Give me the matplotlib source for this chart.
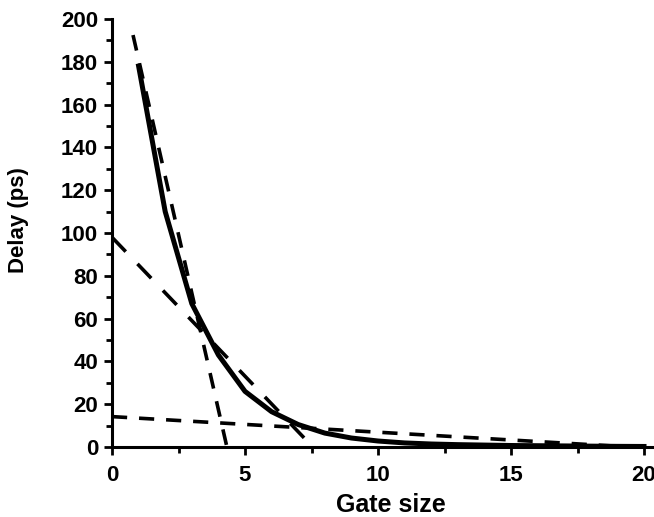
import matplotlib
matplotlib.use("Agg")
import matplotlib.pyplot as plt
from matplotlib.ticker import MultipleLocator

plt.rcParams['font.family'] = ['Liberation Sans', 'DejaVu Sans']
plt.rcParams['font.weight'] = 'bold'

# Measured delay versus gate size
gate_size = [1, 2, 3, 4, 5, 6, 7, 8, 9, 10, 11, 12, 13, 14, 15, 16, 17, 18, 19, 20]
delay_ps = [178, 110, 67, 43, 26, 16.5, 10.5, 6.5, 4.2, 2.8, 1.9, 1.4, 1.1, 0.9, 0.7, 0.6, 0.5, 0.4, 0.3, 0.25]

# Straight-line asymptotes (end points)
fit_steep_x = [0.79, 4.32]
fit_steep_y = [192.5, 0]
fit_mid_x = [0, 7.55]
fit_mid_y = [98, 0]
fit_flat_x = [0, 19.5]
fit_flat_y = [14.2, 0]

W, H = 654, 517
x_left, y_zero, y_top = 112, 447, 19
px_per_unit = 26.6
x_max = 21

fig = plt.figure(figsize=(W / 100, H / 100), dpi=100)
ax = fig.add_axes([x_left / W, (H - y_zero) / H,
                   x_max * px_per_unit / W, (y_zero - y_top) / H])

ax.plot(gate_size, delay_ps, color='black', lw=3.6, solid_joinstyle='round', zorder=3)
ax.plot(fit_steep_x, fit_steep_y, color='black', lw=2.6, dashes=(4.4, 3.6), zorder=2)
ax.plot(fit_mid_x, fit_mid_y, color='black', lw=2.6, dashes=(5.5, 4.7), zorder=2)
ax.plot(fit_flat_x, fit_flat_y, color='black', lw=2.6, dashes=(4.2, 3.3), zorder=2)

ax.set_xlim(0, x_max)
ax.set_ylim(0, 200)
ax.xaxis.set_major_locator(MultipleLocator(5))
ax.xaxis.set_minor_locator(MultipleLocator(2.5))
ax.yaxis.set_major_locator(MultipleLocator(20))
ax.yaxis.set_minor_locator(MultipleLocator(10))

for side in ('top', 'right'):
    ax.spines[side].set_visible(False)
for side in ('left', 'bottom'):
    ax.spines[side].set_linewidth(2.2)

ax.tick_params(axis='both', which='major', direction='out', length=6, width=2, labelsize=16)
ax.tick_params(axis='both', which='minor', direction='out', length=4, width=2)
ax.tick_params(axis='x', which='major', pad=7)
ax.tick_params(axis='y', which='major', pad=4)

ax.set_xlabel('Gate size', fontsize=18, fontweight='bold', labelpad=5)
ax.set_ylabel('Delay (ps)', fontsize=16, fontweight='bold')
axes_w_px = x_max * px_per_unit
ax.yaxis.set_label_coords((29 - x_left) / axes_w_px, (y_zero - 220) / (y_zero - y_top))

fig.savefig('out.png', dpi=100)
